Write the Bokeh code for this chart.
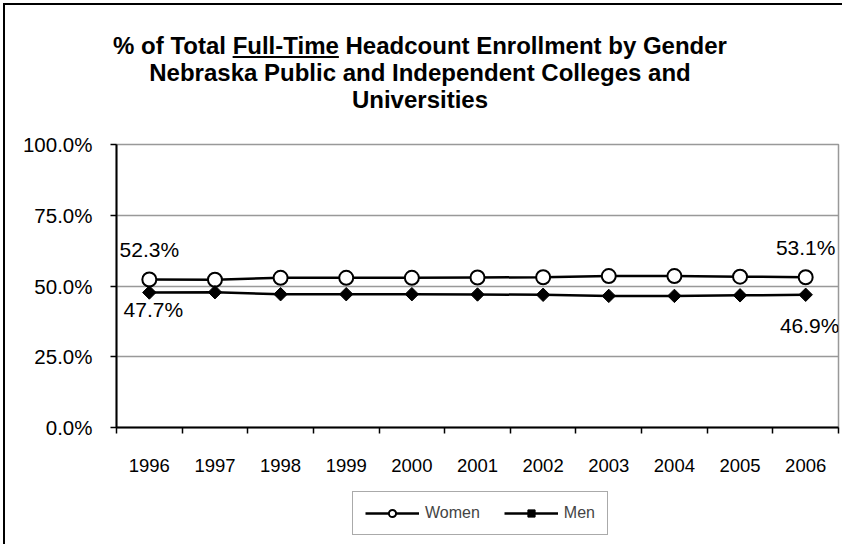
import math
from bokeh.plotting import figure
from bokeh.layouts import column
from bokeh.models import (ColumnDataSource, FixedTicker, Legend, LegendItem, Div, Range1d)
from bokeh.core.properties import value
from bokeh.embed import file_html
from bokeh.resources import INLINE

# ---------------- data ----------------
years = ["1996", "1997", "1998", "1999", "2000", "2001", "2002", "2003", "2004", "2005", "2006"]
women = [52.3, 52.2, 52.9, 52.9, 52.9, 53.0, 53.1, 53.5, 53.5, 53.3, 53.1]
men = [47.7, 47.8, 47.1, 47.1, 47.1, 47.0, 46.9, 46.5, 46.5, 46.7, 46.9]
y_ticks = [0, 25, 50, 75, 100]
y_tick_labels = ["0.0%", "25.0%", "50.0%", "75.0%", "100.0%"]
title_lines = ["% of Total Full-Time Headcount Enrollment by Gender",
               "Nebraska Public and Independent Colleges and",
               "Universities"]
underlined = "Full-Time"
series_names = ["Women", "Men"]

FONT = "Liberation Sans"
CW = 837            # content width (inside outer frame)
TITLE_H = 115
BL, BR, BT, BB = 111, 4, 24, 55
FRAME_H = 283
MAIN_H = BT + FRAME_H + BB
LEG_H = 539 - TITLE_H - MAIN_H

# ---------------- title (HTML so that the underline is real) ----------------
html_lines = [title_lines[0].replace(underlined, f"<u>{underlined}</u>")] + title_lines[1:]
title_div = Div(
    text=(f"<div style=\"width:{CW}px;box-sizing:border-box;"
          "font-family:'Liberation Sans',Arial,sans-serif;font-weight:bold;"
          "font-size:24px;line-height:27px;text-align:center;color:black;"
          "padding-top:27px;padding-right:7px;text-decoration-thickness:2px;"
          "text-underline-offset:2px;\">" + "<br>".join(html_lines) + "</div>"),
    width=CW, height=TITLE_H, margin=0)

# ---------------- main chart ----------------
xs = list(range(len(years)))
x_rng = Range1d(-0.5, len(years) - 0.5)

p = figure(width=CW, height=MAIN_H, output_backend="svg", toolbar_location=None,
           x_range=x_rng, y_range=Range1d(0, 100),
           min_border_left=BL, min_border_right=BR, min_border_top=BT, min_border_bottom=BB)
p.background_fill_color = "white"
p.border_fill_color = "white"
p.outline_line_color = "#999999"
p.outline_line_width = 1.5

# x axis: labels at centres, tick marks between categories
p.xaxis.ticker = FixedTicker(ticks=xs, minor_ticks=[i - 0.5 for i in range(len(years) + 1)])
p.xaxis.major_label_overrides = {i: y for i, y in enumerate(years)}
p.xaxis.major_tick_out = 0
p.xaxis.major_tick_in = 0
p.xaxis.minor_tick_out = 6
p.xaxis.minor_tick_in = 0
p.xaxis.minor_tick_line_color = "black"
p.xaxis.minor_tick_line_width = 1.5
p.xaxis.major_label_standoff = 25

p.yaxis.ticker = FixedTicker(ticks=y_ticks)
p.yaxis.major_label_overrides = {t: l for t, l in zip(y_ticks, y_tick_labels)}
p.yaxis.major_tick_out = 6
p.yaxis.major_tick_in = 0
p.yaxis.major_label_standoff = 18

for ax in (p.xaxis, p.yaxis):
    ax.axis_line_color = "black"
    ax.axis_line_width = 2
    ax.major_tick_line_color = "black"
    ax.major_tick_line_width = 1.5
    ax.major_label_text_font = FONT
    ax.major_label_text_color = "black"
p.yaxis.major_label_text_font_size = "20.5px"
p.xaxis.major_label_text_font_size = "18.5px"

p.xgrid.visible = False
p.ygrid.ticker = FixedTicker(ticks=y_ticks)
p.ygrid.grid_line_color = "#999999"
p.ygrid.grid_line_width = 1.5

line_kw = dict(line_color="black", line_width=2.5)
w_kw = dict(marker="circle", fill_color="white", line_color="black", line_width=2)
m_kw = dict(marker="square", angle=math.pi / 4, fill_color="black", line_color="black",
            line_width=1)

p.line(xs, women, **line_kw)
p.scatter(xs, women, size=14, **w_kw)
p.line(xs, men, **line_kw)
p.scatter(xs, men, size=9.5, **m_kw)

# data labels on first and last points
idx = [0, len(years) - 1]
lab = ColumnDataSource(dict(
    x=[xs[i] for i in idx] + [xs[i] for i in idx],
    y=[women[i] for i in idx] + [men[i] for i in idx],
    text=[f"{women[i]:.1f}%" for i in idx] + [f"{men[i]:.1f}%" for i in idx],
    dx=[0, 0, 4, 4],
    dy=[-30, -30, 17, 31],
))
p.text(x="x", y="y", text="text", source=lab, x_offset="dx", y_offset="dy",
       text_align="center", text_baseline="middle", text_font=value(FONT),
       text_font_size="21px", text_color="black")

# ---------------- legend (own strip below the chart) ----------------
# same series drawn again, but outside this strip's visible y range: only the legend shows
lg = figure(width=CW, height=LEG_H, output_backend="svg", toolbar_location=None,
            x_range=x_rng, y_range=Range1d(200, 201),
            x_axis_type=None, y_axis_type=None,
            min_border_left=0, min_border_right=0, min_border_top=0, min_border_bottom=0)
lg.outline_line_color = None
lg.xgrid.visible = False
lg.ygrid.visible = False
lg.background_fill_color = "white"
lg.border_fill_color = "white"
lw_l = lg.line(xs, women, **line_kw)
lw_p = lg.scatter(xs, women, **w_kw)
lm_l = lg.line(xs, men, **line_kw)
lm_p = lg.scatter(xs, men, **m_kw)
legend = Legend(items=[LegendItem(label=series_names[0], renderers=[lw_l, lw_p]),
                       LegendItem(label=series_names[1], renderers=[lm_l, lm_p])],
                orientation="horizontal", location=(236, 9),
                label_text_font=FONT, label_text_font_size="16px",
                glyph_width=54, glyph_height=18, label_height=16, label_standoff=6,
                spacing=24, padding=12, margin=0,
                border_line_color="#555555", border_line_width=1)
lg.add_layout(legend, "center")

layout = column(title_div, p, lg, spacing=0,
                styles={"margin": "3px 0 0 3px", "border-left": "2px solid black",
                        "border-top": "2px solid black"})

open("out.html", "w").write(file_html(layout, INLINE))
